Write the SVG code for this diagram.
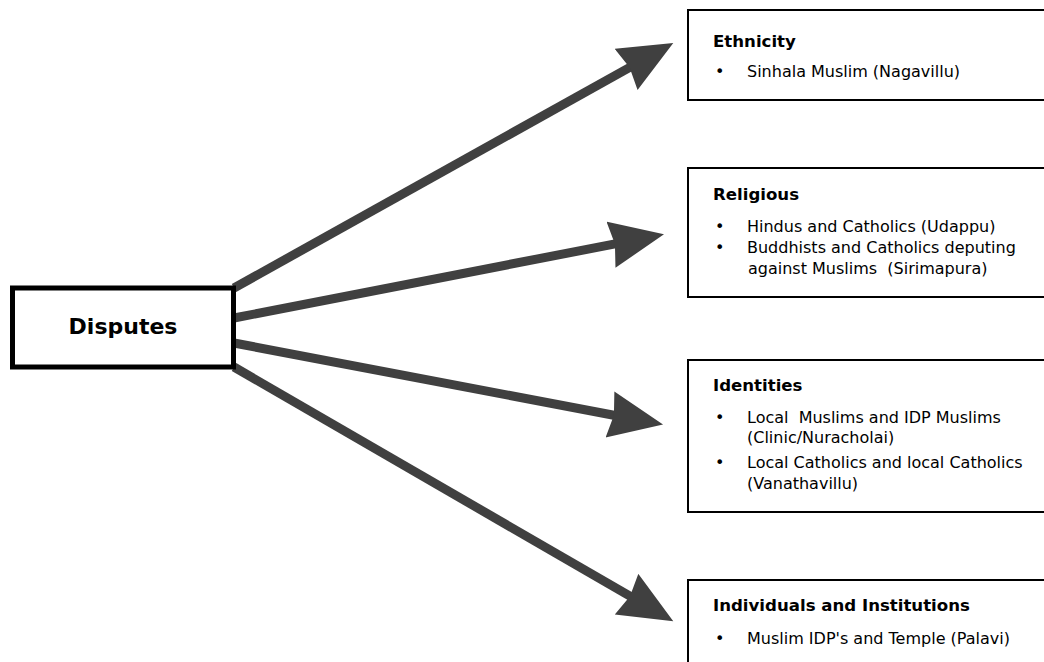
<svg xmlns="http://www.w3.org/2000/svg" width="1044" height="662" viewBox="0 0 1044 662">
<style>
.box{fill:#fff;stroke:#000;stroke-width:2}
.main{fill:#fff;stroke:#000;stroke-width:5}
.t{font-family:"DejaVu Sans",Verdana,sans-serif;font-size:16px;fill:#000}
.b{font-weight:bold;font-size:16.6px}
.big{font-family:"DejaVu Sans",Verdana,sans-serif;font-size:22px;font-weight:bold;fill:#000}
.conn{stroke:#404040;stroke-width:9;fill:none;marker-end:url(#ah)}
</style>
<defs>
<marker id="ah" markerUnits="userSpaceOnUse" markerWidth="60" markerHeight="50" refX="16" refY="23.5" orient="auto" viewBox="0 0 60 50">
<path d="M0,0 L54,23.5 L0,47 L4,23.5 z" fill="#404040"/>
</marker>
</defs>
<g id="connectors">
<path class="conn" d="M234,288 L640.1,61.6"/>
<path class="conn" d="M234,318 L626.7,241.6"/>
<path class="conn" d="M234,343 L625.7,417.5"/>
<path class="conn" d="M234,367 L640.4,602.2"/>
</g>
<g id="disputes">
<rect class="main" x="12.5" y="288" width="221" height="79"/>
<text class="big" x="123" y="334" text-anchor="middle">Disputes</text>
</g>
<g id="ethnicity">
<rect class="box" x="688" y="10" width="370" height="90"/>
<text class="t b" x="713" y="47">Ethnicity</text>
<text class="t" x="715" y="77">•</text>
<text class="t" x="747" y="77">Sinhala Muslim (Nagavillu)</text>
</g>
<g id="religious">
<rect class="box" x="688" y="168" width="370" height="129"/>
<text class="t b" x="713" y="200">Religious</text>
<text class="t" x="715" y="232">•</text>
<text class="t" x="747" y="232">Hindus and Catholics (Udappu)</text>
<text class="t" x="715" y="253">•</text>
<text class="t" x="747" y="253">Buddhists and Catholics deputing</text>
<text class="t" x="748" y="274" xml:space="preserve">against Muslims  (Sirimapura)</text>
</g>
<g id="identities">
<rect class="box" x="688" y="360" width="370" height="152"/>
<text class="t b" x="713" y="391">Identities</text>
<text class="t" x="715" y="423">•</text>
<text class="t" x="747" y="423" xml:space="preserve">Local  Muslims and IDP Muslims</text>
<text class="t" x="747" y="443">(Clinic/Nuracholai)</text>
<text class="t" x="715" y="468">•</text>
<text class="t" x="747" y="468">Local Catholics and local Catholics</text>
<text class="t" x="747" y="489">(Vanathavillu)</text>
</g>
<g id="individuals">
<rect class="box" x="688" y="580" width="370" height="100"/>
<text class="t b" x="713" y="611">Individuals and Institutions</text>
<text class="t" x="715" y="644">•</text>
<text class="t" x="747" y="644">Muslim IDP's and Temple (Palavi)</text>
</g>
</svg>
